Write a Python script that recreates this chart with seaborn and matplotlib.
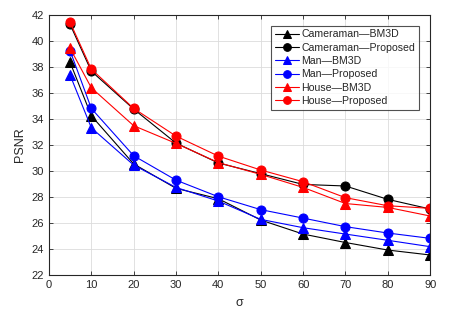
import matplotlib
matplotlib.use("Agg")
import matplotlib.pyplot as plt
import seaborn as sns
import pandas as pd

sigma = [5, 10, 20, 30, 40, 50, 60, 70, 80, 90]
cameraman_bm3d = [38.36, 34.26, 30.55, 28.67, 27.87, 26.23, 25.15, 24.50, 23.92, 23.54]
cameraman_prop = [41.28, 37.69, 34.77, 32.15, 30.62, 29.80, 28.97, 28.85, 27.82, 27.08]
man_bm3d = [37.38, 33.33, 30.46, 28.74, 27.69, 26.28, 25.64, 25.15, 24.67, 24.18]
man_prop = [39.26, 34.82, 31.18, 29.30, 28.02, 27.03, 26.38, 25.72, 25.23, 24.82]
house_bm3d = [39.44, 36.41, 33.49, 32.13, 30.65, 29.74, 28.74, 27.50, 27.20, 26.54]
house_prop = [41.44, 37.85, 34.82, 32.69, 31.15, 30.08, 29.18, 27.95, 27.33, 27.13]

labels = ["Cameraman\u2014BM3D", "Cameraman\u2014Proposed", "Man\u2014BM3D",
          "Man\u2014Proposed", "House\u2014BM3D", "House\u2014Proposed"]
series = [cameraman_bm3d, cameraman_prop, man_bm3d, man_prop, house_bm3d, house_prop]
colors = ["black", "black", "blue", "blue", "red", "red"]
markers = ["^", "o", "^", "o", "^", "o"]

sns.set_style("ticks")
plt.rcParams['font.family'] = ['Liberation Sans', 'DejaVu Sans']

fig = plt.figure(figsize=(4.49, 3.15), dpi=100)
ax = fig.add_axes([0.109, 0.127, 0.849, 0.825])

for lab, vals, c, m in zip(labels, series, colors, markers):
    df = pd.DataFrame({"sigma": sigma, "psnr": vals})
    sns.lineplot(data=df, x="sigma", y="psnr", ax=ax, color=c, marker=m,
                 markersize=6.5, markeredgecolor=c,
                 linewidth=0.8, label=lab)

ax.set_xlim(0, 90)
ax.set_ylim(22, 42)
ax.set_xticks(range(0, 91, 10))
ax.set_yticks(range(22, 43, 2))
ax.grid(True, color="#dcdcdc", linewidth=0.6)
ax.set_axisbelow(True)
for s in ax.spines.values():
    s.set_visible(True)
    s.set_color("#262626")
    s.set_linewidth(0.8)
ax.tick_params(direction="in", top=True, right=True, labelsize=8,
               colors="#262626", length=3, width=0.6)
ax.set_xlabel("\u03c3", fontsize=9, color="#262626", labelpad=5)
ax.set_ylabel("PSNR", fontsize=9, color="#262626")

leg = ax.legend(loc="upper right", bbox_to_anchor=(0.97, 0.96), fontsize=7.6,
                frameon=True, fancybox=False, edgecolor="#262626",
                handlelength=2.3, handletextpad=0.2, borderpad=0.35,
                labelspacing=0.32, borderaxespad=0, markerscale=0.85)
leg.get_frame().set_linewidth(0.8)

fig.savefig("out.png", dpi=100)
